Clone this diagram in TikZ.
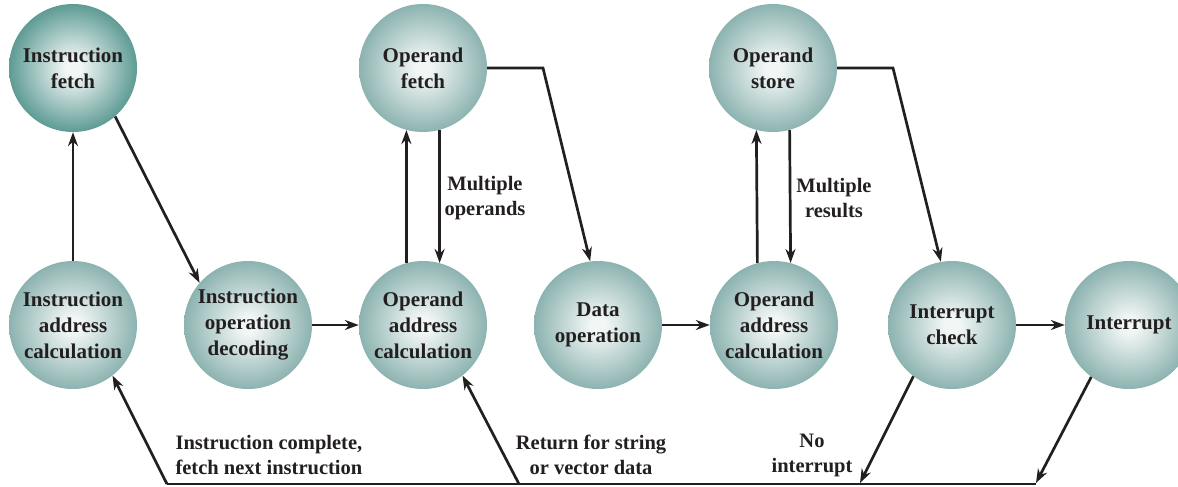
\documentclass[tikz,border=0pt]{standalone}
\usepackage{fontspec}
\setmainfont{Liberation Serif}
\usetikzlibrary{arrows.meta}
\definecolor{cin}{HTML}{F2F7F6}
\definecolor{coutA}{HTML}{5E9B94}
\definecolor{coutB}{HTML}{8CB3B0}
\definecolor{ink}{HTML}{231F20}
\pgfdeclareradialshading{ballA}{\pgfpoint{0bp}{0bp}}{color(0bp)=(cin); color(3bp)=(cin); color(25bp)=(coutA); color(50bp)=(coutA)}
\pgfdeclareradialshading{ballB}{\pgfpoint{0bp}{0bp}}{color(0bp)=(cin); color(3bp)=(cin); color(25bp)=(coutB); color(50bp)=(coutB)}
\begin{document}
\begin{tikzpicture}[x=1pt,y=-1pt,
  state/.style={circle, minimum size=128pt, inner sep=0pt, shading=ballB, align=center,
    text=ink, font=\fontsize{21}{26}\selectfont\bfseries},
  firststate/.style={state, shading=ballA},
  lbl/.style={align=center, text=ink, font=\fontsize{20.5}{25}\selectfont\bfseries},
  conn/.style={line width=2.7pt, draw=ink},
  arr/.style={conn, -{Stealth[length=14pt,width=10pt]}}]
\useasboundingbox (0,0) rectangle (1178,487);
% top row
\node[firststate] (if) at (73,68) {Instruction\\fetch};
\node[state] (of) at (423,68) {Operand\\fetch};
\node[state] (os) at (773,68) {Operand\\store};
% bottom row
\node[state] (iac) at (73,325) {Instruction\\address\\calculation};
\node[state] (iod) at (248,325) {Instruction\\operation\\decoding};
\node[state] (oac1) at (423,325) {Operand\\address\\calculation};
\node[state] (dop) at (598,325) {Data\\operation};
\node[state] (oac2) at (774,325) {Operand\\address\\calculation};
\node[state] (ic) at (952,325) {Interrupt\\check};
\node[state] (int) at (1129,325) {Interrupt};
% bend points
\coordinate (ofb) at (543,68);
\coordinate (osb) at (893,68);
\coordinate (bl) at (167,484);
\coordinate (bm) at (519,484);
\coordinate (bni) at (860,483);
\coordinate (br) at (1036,483);
% connectors
\draw[arr] (iac) -- (if);
\draw[arr] (if.-49) -- (iod.139);
\draw[arr] (iod) -- (oac1);
\draw[arr] (oac1.105) -- (of.-105);
\draw[arr] (of.-75) -- (oac1.75);
\draw[arr] (of.east) -- (ofb) -- (dop.97);
\draw[arr] (dop) -- (oac2);
\draw[arr] (oac2.105) -- (os.-105);
\draw[arr] (os.-75) -- (oac2.75);
\draw[arr] (os.east) -- (osb) -- (ic.100);
\draw[arr] (ic) -- (int);
\draw[arr] (ic.-127) -- (bni);
\draw[arr] (int.-126) -- (br);
\draw[conn] (br |- bl) -- (bl);
\draw[arr] (bl) -- (iac.-52);
\draw[arr] (bm) -- (oac1.-52);
% labels
\node[lbl] (lmo) at (485,198) {Multiple\\operands};
\node[lbl] (lmr) at (834,198) {Multiple\\results};
\node[lbl, align=left, anchor=west] (lic) at (172,455) {Instruction complete,\\fetch next instruction};
\node[lbl] (lrs) at (591,455) {Return for string\\or vector data};
\node[lbl] (lni) at (812,455) {No\\interrupt};
\end{tikzpicture}
\end{document}
